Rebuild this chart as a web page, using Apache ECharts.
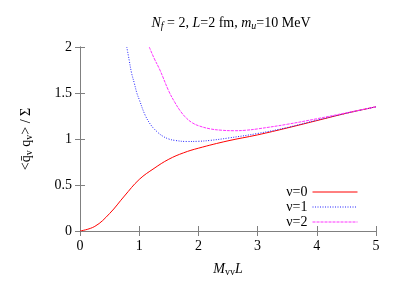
<!DOCTYPE html>
<html>
<head>
<meta charset="utf-8">
<script src="https://cdn.jsdelivr.net/npm/echarts@6/dist/echarts.min.js"></script>
<style>
  html, body { margin: 0; padding: 0; background: #fff; }
  #chart { width: 403px; height: 282px; }
</style>
</head>
<body>
<div id="chart"></div>
<script>
// 数据
const xNu0 = [0, 0.25, 0.5, 0.75, 1.0, 1.25, 1.5, 1.75, 2.0, 2.5, 3.0, 3.5, 4.0, 4.5, 5.0]
const yNu0 = [0, 0.05, 0.19, 0.38, 0.56, 0.68, 0.78, 0.85, 0.90, 0.98, 1.045, 1.12, 1.20, 1.28, 1.35]

const xNu1 = [0.79, 0.83, 0.87, 0.92, 0.96, 1.0, 1.1, 1.2, 1.3, 1.4, 1.5, 1.6, 1.8, 2.0, 2.2, 2.5, 3.0, 3.5, 4.0, 4.5, 5.0]
const yNu1 = [2.0, 1.86, 1.72, 1.60, 1.50, 1.43, 1.26, 1.15, 1.08, 1.03, 1.0, 0.985, 0.973, 0.975, 0.985, 1.01, 1.06, 1.125, 1.205, 1.28, 1.35]

const xNu2 = [1.17, 1.25, 1.35, 1.5, 1.6, 1.7, 1.8, 1.9, 2.0, 2.2, 2.4, 2.6, 2.8, 3.0, 3.5, 4.0, 4.5, 5.0]
const yNu2 = [2.0, 1.88, 1.75, 1.52, 1.40, 1.30, 1.225, 1.175, 1.145, 1.11, 1.095, 1.09, 1.095, 1.11, 1.16, 1.22, 1.285, 1.35]

const seriesNames = ['ν=0', 'ν=1', 'ν=2']
const colors = ['#ff0000', '#2222ff', '#ff33ff']
const dashes = ['solid', [1, 1.5], [3, 1]]

const font = 'Liberation Serif'
const frameColor = '#808080'

const pairs = (xs, ys) => xs.map((x, i) => [x, ys[i]])

const chart = echarts.init(document.getElementById('chart'))

const axisCommon = {
  type: 'value',
  axisLine: { show: true, lineStyle: { color: frameColor, width: 1 } },
  axisTick: { show: true, inside: true, length: 5, lineStyle: { color: frameColor } },
  splitLine: { show: false }
}

const txt = (extra) => ({ fontFamily: font, fontSize: 14, fontWeight: 'normal', color: '#000', ...extra })
const sub = { fontFamily: font, fontSize: 10, fontWeight: 'normal', color: '#000', verticalAlign: 'bottom', padding: [6, 0, 0, 0] }

const allX = [xNu0, xNu1, xNu2]
const allY = [yNu0, yNu1, yNu2]

const option = {
  animation: false,
  backgroundColor: '#fff',
  textStyle: { fontFamily: font },
  title: {
    text: '{i|N}{s|f}{n| = 2, }{i|L}{n|=2 fm, }{i|m}{s|u}{n|=10 MeV}',
    left: 226,
    top: 10,
    textAlign: 'center',
    textStyle: {
      fontWeight: 'normal',
      rich: {
        n: txt(),
        i: txt({ fontStyle: 'italic' }),
        s: { ...sub, fontStyle: 'italic' }
      }
    }
  },
  grid: { left: 80, right: 27, top: 47, bottom: 48 },
  legend: {
    orient: 'vertical',
    right: 40,
    top: 180,
    align: 'right',
    itemWidth: 45,
    itemHeight: 8,
    itemGap: 1,
    itemStyle: { opacity: 0 },
    textStyle: txt(),
    data: seriesNames.map((n, i) => ({
      name: n,
      lineStyle: { color: colors[i], width: 1, type: dashes[i] }
    }))
  },
  xAxis: [
    {
      ...axisCommon,
      min: 0, max: 5, interval: 1,
      axisLabel: { color: '#000', fontSize: 14, fontFamily: font, margin: 8 },
      name: '{i|M}{s|vv}{i|L}',
      nameLocation: 'middle',
      nameGap: 30,
      nameTextStyle: {
        rich: {
          i: txt({ fontStyle: 'italic' }),
          s: sub
        }
      }
    },
    {
      ...axisCommon,
      position: 'top',
      min: 0, max: 5, interval: 1,
      axisLabel: { show: false }
    }
  ],
  yAxis: [
    {
      ...axisCommon,
      min: 0, max: 2, interval: 0.5,
      axisLabel: { color: '#000', fontSize: 14, fontFamily: font, margin: 8 },
      name: '<q̄{s|v} q{s|v}> / Σ',
      nameLocation: 'middle',
      nameGap: 46,
      nameRotate: 90,
      nameTextStyle: {
        ...txt(),
        rich: { s: sub }
      }
    },
    {
      ...axisCommon,
      position: 'right',
      min: 0, max: 2, interval: 0.5,
      axisLabel: { show: false }
    }
  ],
  series: seriesNames.map((n, i) => ({
    name: n,
    type: 'line',
    data: pairs(allX[i], allY[i]),
    smooth: 0.4,
    symbol: 'none',
    clip: true,
    lineStyle: { color: colors[i], width: 1, type: dashes[i] },
    itemStyle: { color: colors[i] }
  }))
}

chart.setOption(option)
</script>
</body>
</html>
